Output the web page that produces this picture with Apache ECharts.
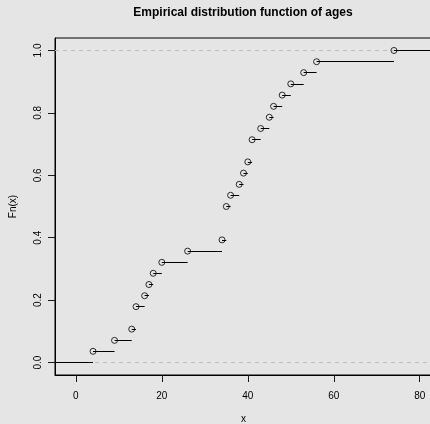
<!DOCTYPE html>
<html>
<head>
<meta charset="utf-8">
<script src="https://cdn.jsdelivr.net/npm/echarts@6/dist/echarts.min.js"></script>
<style>
html,body{margin:0;padding:0;background:#e5e5e5;}
#chart{width:430px;height:424px;}
</style>
</head>
<body>
<div id="chart"></div>
<script>
// Knots (ages) of the empirical distribution function and Fn at each knot
var ages = [4, 9, 13, 14, 16, 17, 18, 20, 26, 34, 35, 36, 38, 39, 40, 41, 43, 45, 46, 48, 50, 53, 56, 74];
var fnValues = [0.036, 0.071, 0.107, 0.179, 0.214, 0.250, 0.286, 0.321, 0.357, 0.393, 0.500, 0.536,
                0.571, 0.607, 0.643, 0.714, 0.750, 0.786, 0.821, 0.857, 0.893, 0.929, 0.964, 1.000];
var xTicks = [0, 20, 40, 60, 80];
var yTicks = [0, 0.2, 0.4, 0.6, 0.8, 1.0];
var refLevels = [0, 1];
var xRange = [-4.85, 82.85];
var yRange = [-0.04, 1.04];

var segs = [];
segs.push({coords: [[xRange[0], 0], [ages[0], 0]]});
for (var i = 0; i < ages.length; i++) {
  var xEnd = (i < ages.length - 1) ? ages[i + 1] : xRange[1];
  segs.push({coords: [[ages[i], fnValues[i]], [xEnd, fnValues[i]]]});
}
var refSegs = refLevels.map(function (h) { return {coords: [[xRange[0], h], [xRange[1], h]]}; });
var pts = ages.map(function (a, i) { return [a, fnValues[i]]; });

var chart = echarts.init(document.getElementById('chart'), null, {renderer: 'canvas'});
var font = 'Liberation Sans, Arial, Helvetica, sans-serif';
chart.setOption({
  backgroundColor: '#e5e5e5',
  animation: false,
  graphic: [{
    type: 'text', x: 243, y: 7,
    style: {text: 'Empirical distribution function of ages', fontFamily: font, fontSize: 12,
            fontWeight: 'bold', fill: '#000', align: 'center', verticalAlign: 'top'}
  }],
  grid: {left: 55, top: 38, right: -2, bottom: 49, show: true, borderColor: '#000',
         borderWidth: 1, backgroundColor: 'transparent', containLabel: false, outerBoundsMode: 'none'},
  xAxis: {
    type: 'value', min: xRange[0], max: xRange[1], position: 'bottom',
    name: 'x', nameLocation: 'middle', nameGap: 39,
    nameTextStyle: {fontFamily: font, fontSize: 10, color: '#000'},
    axisLine: {show: true, onZero: true, onZeroAxisIndex: 1, lineStyle: {color: '#000', width: 1}},
    axisTick: {show: true, inside: false, length: 7, customValues: xTicks, lineStyle: {color: '#1a1a1a', width: 1}},
    axisLabel: {customValues: xTicks, margin: 16, fontFamily: font, fontSize: 10, color: '#000'},
    splitLine: {show: false}
  },
  yAxis: [{
    type: 'value', min: yRange[0], max: yRange[1], position: 'left',
    name: 'Fn(x)', nameLocation: 'middle', nameGap: 37, nameRotate: 90,
    nameTextStyle: {fontFamily: font, fontSize: 10, color: '#000'},
    axisLine: {show: true, onZero: false, lineStyle: {color: '#000', width: 1}},
    axisTick: {show: true, inside: false, length: 7, customValues: yTicks, lineStyle: {color: '#1a1a1a', width: 1}},
    axisLabel: {customValues: yTicks, rotate: 90, margin: 12, fontFamily: font, fontSize: 10, color: '#000',
                formatter: function (v) { return v.toFixed(1); }},
    splitLine: {show: false}
  }, {
    type: 'value', min: 0, max: 1, show: false
  }],
  series: [
    {type: 'lines', coordinateSystem: 'cartesian2d', polyline: false, silent: true,
     data: refSegs, lineStyle: {color: '#bebebe', width: 1, type: [4, 4], opacity: 1}},
    {type: 'lines', coordinateSystem: 'cartesian2d', polyline: false, silent: true,
     data: segs, lineStyle: {color: '#000', width: 1, opacity: 1}},
    {type: 'scatter', data: pts, symbol: 'circle', symbolSize: 6, silent: true,
     itemStyle: {color: 'transparent', borderColor: '#000', borderWidth: 1}}
  ]
});
</script>
</body>
</html>
